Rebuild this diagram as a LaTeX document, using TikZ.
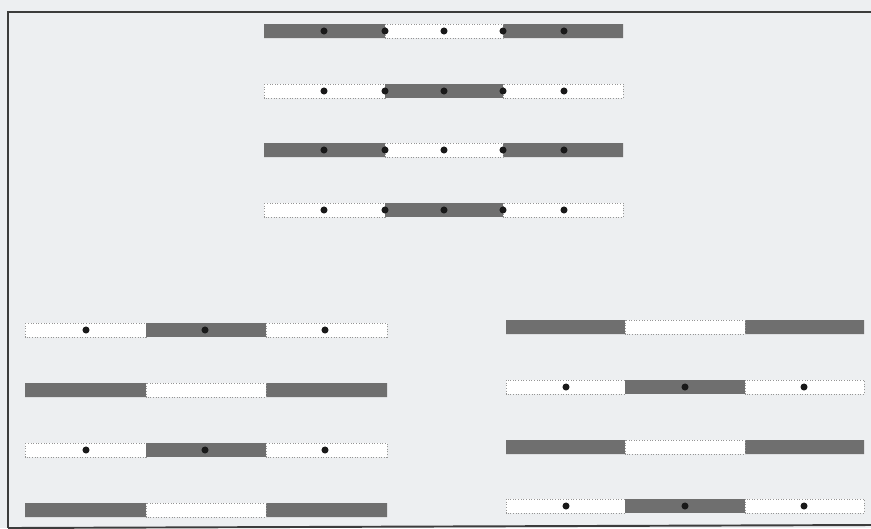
\documentclass[tikz,border=0pt]{standalone}
\usepackage{tikz}
\definecolor{paper}{HTML}{EDEFF1}
\definecolor{barg}{HTML}{6F6F6F}
\definecolor{rim}{HTML}{959595}
\definecolor{frameg}{HTML}{3C3C3C}
\tikzset{gseg/.style={fill=barg},wseg/.style={draw=rim,fill=white,densely dotted,line width=.5pt},pt/.style={fill=black!90}}

\begin{document}
\begin{tikzpicture}[x=0.02cm,y=-0.02cm,frame/.style={draw=frameg,line width=1.1pt}]
\useasboundingbox (0,0) rectangle (871,528);
\fill[paper] (0,0) rectangle (871,528);
\draw[frame] (871,12)--(8,12)--(8,528);\draw[frame] (8,528)--(871,525);
% top group, five dots each
\foreach \yy/\a/\b in {31/gseg/wseg,91/wseg/gseg,150/gseg/wseg,210/wseg/gseg}{
\path[\a] (264,\yy-7) rectangle (385,\yy+7) (503,\yy-7) rectangle (623,\yy+7);
\path[\b] (385,\yy-7) rectangle (503,\yy+7);
\foreach \xx in {324,385,444,503,564} \fill[pt] (\xx,\yy) circle (2pt);}
% left group
\foreach \yy/\a/\b in {330/wseg/gseg,390/gseg/wseg,450/wseg/gseg,510/gseg/wseg}{
\path[\a] (25,\yy-7) rectangle (146,\yy+7) (266,\yy-7) rectangle (387,\yy+7);
\path[\b] (146,\yy-7) rectangle (266,\yy+7);}
\foreach \yy in {330,450}{\foreach \xx in {86,205,325} \fill[pt] (\xx,\yy) circle (2pt);}
% right group
\foreach \yy/\a/\b in {327/gseg/wseg,387/wseg/gseg,447/gseg/wseg,506/wseg/gseg}{
\path[\a] (506,\yy-7) rectangle (625,\yy+7) (745,\yy-7) rectangle (864,\yy+7);
\path[\b] (625,\yy-7) rectangle (745,\yy+7);}
\foreach \yy in {387,506}{\foreach \xx in {566,685,804} \fill[pt] (\xx,\yy) circle (2pt);}
\end{tikzpicture}
\end{document}
